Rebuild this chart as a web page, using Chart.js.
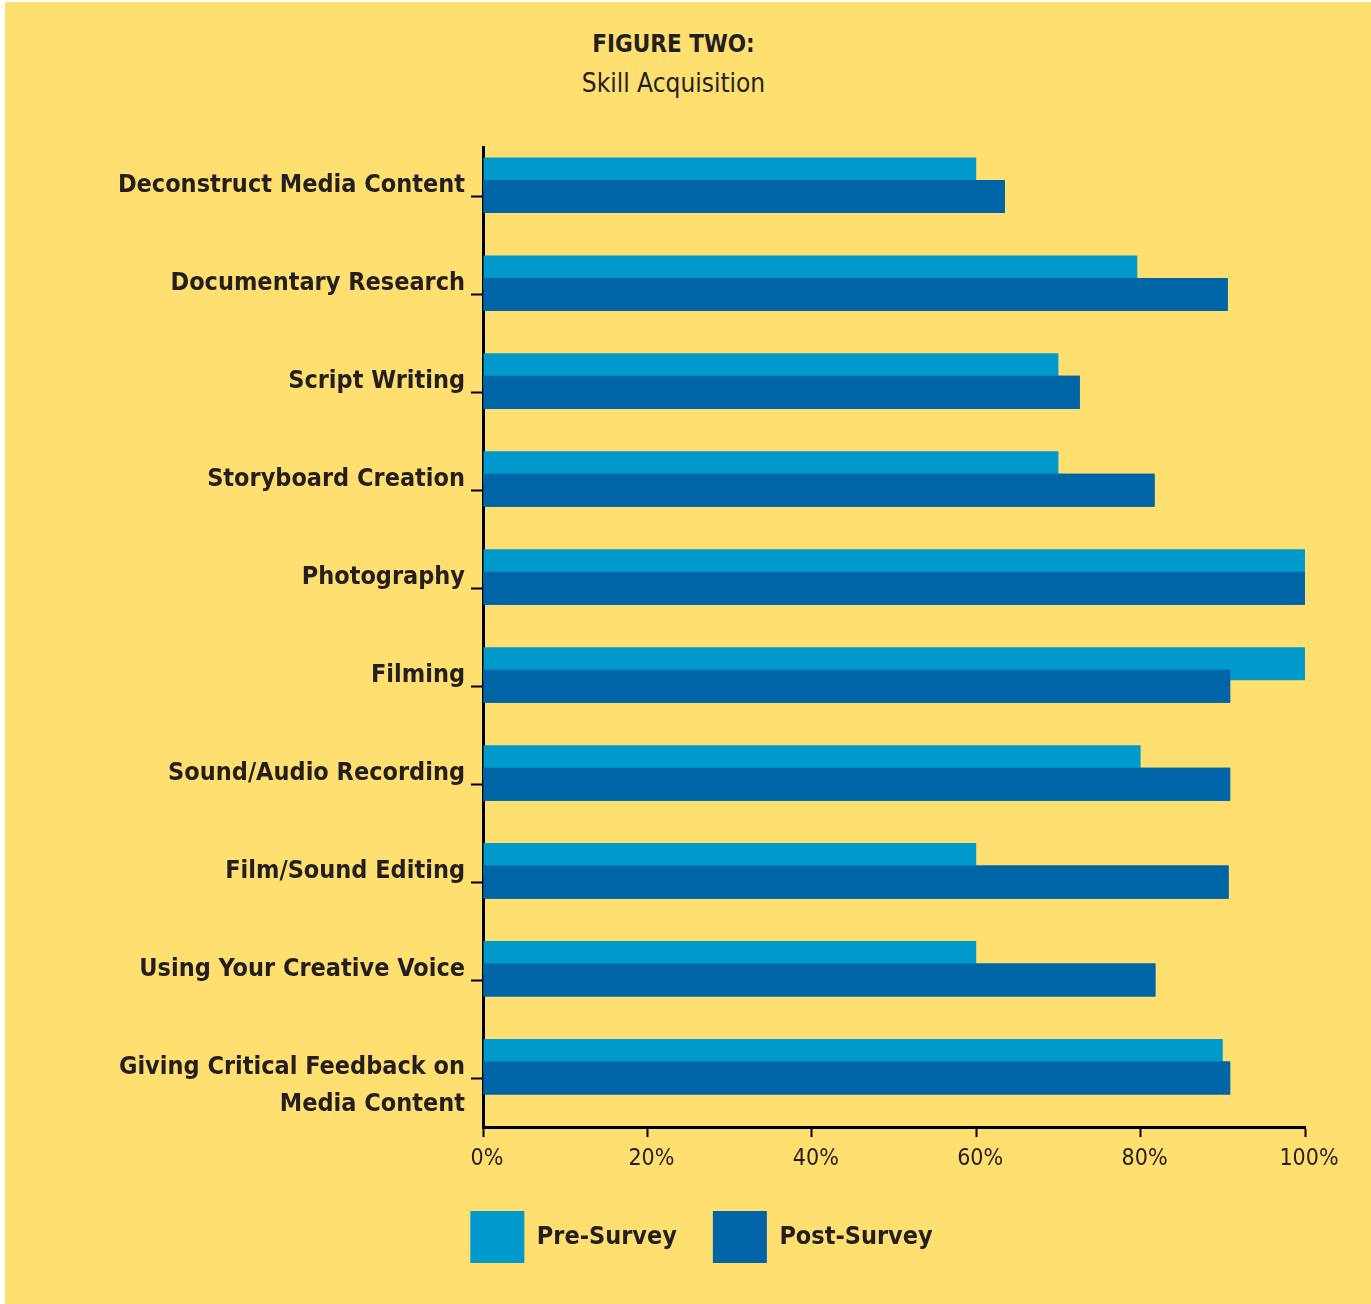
<!DOCTYPE html>
<html>
<head>
<meta charset="utf-8">
<title>Figure Two: Skill Acquisition</title>
<script src="https://cdn.jsdelivr.net/npm/chart.js@4.4.1/dist/chart.umd.min.js"></script>
<style>
  html, body { margin: 0; padding: 0; background: #fff; }
  #panel { position: absolute; left: 5px; top: 2px; width: 1366px; height: 1302px; background: #fedf70; }
  #chart { position: absolute; left: 0; top: 0; }
  .head {
    position: absolute; left: 0; width: 1347px; text-align: center; color: #231f20;
    font-family: 'Liberation Sans Narrow', 'DejaVu Sans Condensed', 'Arial Narrow', sans-serif;
  }
  #fig { top: 32px; font-size: 24px; line-height: 24px; font-weight: bold; }
  #sub { top: 70px; font-size: 26px; line-height: 26px; }
</style>
</head>
<body>
<div id="panel"></div>
<div class="head" id="fig">FIGURE TWO:</div>
<div class="head" id="sub">Skill Acquisition</div>
<canvas id="chart" width="1371" height="1304"></canvas>
<script>
const categories = [
  'Deconstruct Media Content',
  'Documentary Research',
  'Script Writing',
  'Storyboard Creation',
  'Photography',
  'Filming',
  'Sound/Audio Recording',
  'Film/Sound Editing',
  'Using Your Creative Voice',
  ['Giving Critical Feedback on', 'Media Content'],
];
const preSurvey = [60, 79.6, 70, 70, 100, 100, 80, 60, 60, 90];
const postSurvey = [63.5, 90.6, 72.6, 81.7, 100, 90.9, 90.9, 90.7, 81.8, 90.9];
const xTicks = [0, 20, 40, 60, 80, 100];

const ink = '#231f20';
const family = "'Liberation Sans Narrow', 'DejaVu Sans Condensed', 'Arial Narrow', sans-serif";

// post-survey bars sit over the pre-survey ones
const postOnTop = {
  id: 'postOnTop',
  afterDatasetsDraw(chart) {
    if (chart.isDatasetVisible(1)) chart.getDatasetMeta(1).controller.draw();
  },
};

new Chart(document.getElementById('chart'), {
  type: 'bar',
  data: {
    labels: categories,
    datasets: [
      { label: 'Pre-Survey', data: preSurvey, backgroundColor: '#0099cc', borderWidth: 0 },
      { label: 'Post-Survey', data: postSurvey, backgroundColor: '#0065a7', borderWidth: 0 },
      // empty slot below each pair, pushes the pair above the tick line
      { label: '', data: [], backgroundColor: 'rgba(0,0,0,0)' },
    ],
  },
  plugins: [postOnTop],
  options: {
    indexAxis: 'y',
    responsive: false,
    animation: false,
    categoryPercentage: 0.69,
    barPercentage: 1.4667,
    layout: { padding: { left: 98, right: 66, top: 147.5, bottom: 31 } },
    scales: {
      y: {
        offset: true,
        afterFit(scale) { scale.width = 385; },
        border: { display: true, color: '#000', width: 3 },
        grid: { offset: false, drawOnChartArea: false, drawTicks: true, tickLength: 12, tickWidth: 2, tickColor: '#000' },
        ticks: {
          color: ink,
          autoSkip: false,
          padding: 6,
          labelOffset: -11,
          font: { family, size: 25, weight: 'bold', lineHeight: 1.48 },
          callback(value) {
            const l = this.getLabelForValue(value);
            return Array.isArray(l) ? [''].concat(l) : l;
          },
        },
      },
      x: {
        min: 0,
        max: 100,
        afterFit(scale) { scale.height = 48; },
        afterBuildTicks(scale) { scale.ticks = xTicks.map(v => ({ value: v })); },
        border: { display: true, color: '#000', width: 3 },
        grid: { drawOnChartArea: false, drawTicks: true, tickLength: 10, tickWidth: 2, tickColor: '#000' },
        ticks: {
          color: ink,
          padding: 8,
          labelOffset: 4,
          maxRotation: 0,
          font: { family, size: 23 },
          callback: v => v + '%',
        },
      },
    },
    plugins: {
      title: { display: false },
      tooltip: { enabled: false },
      legend: {
        position: 'bottom',
        labels: {
          color: ink,
          boxWidth: 54,
          boxHeight: 52,
          padding: 36,
          font: { family, size: 25, weight: 'bold' },
          filter: item => item.text !== '',
        },
      },
    },
  },
});
</script>
</body>
</html>
